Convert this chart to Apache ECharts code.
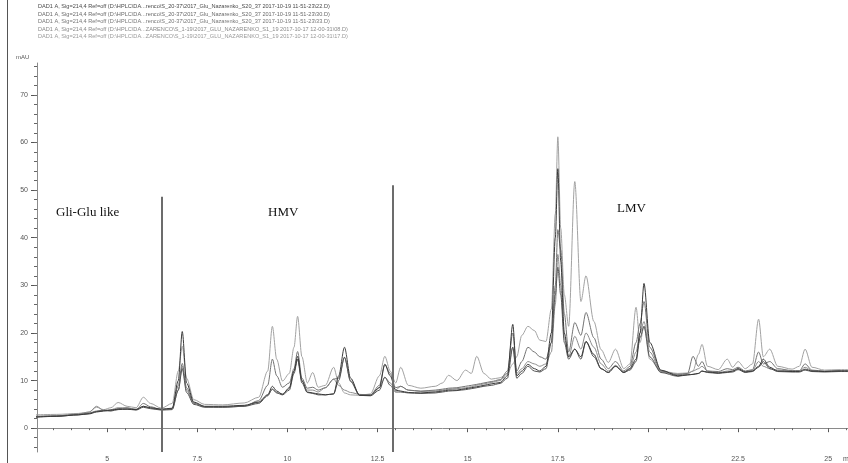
<!DOCTYPE html>
<html>
<head>
<meta charset="utf-8">
<script src="https://cdn.jsdelivr.net/npm/echarts@6/dist/echarts.min.js"></script>
<style>
  html, body { margin: 0; padding: 0; background: #fff; }
  #chart { width: 848px; height: 463px; }
</style>
</head>
<body>
<div id="chart"></div>
<script>
// retention time, min
var times = [
  3.0, 3.6, 4.2, 4.5, 4.7, 4.9, 5.1, 5.3, 5.55, 5.8, 6.0, 6.2, 6.5, 6.8,
  6.97, 7.08, 7.2, 7.4, 7.7, 8.2, 8.8, 9.2, 9.45,
  9.58, 9.7, 9.86, 10.05, 10.18, 10.28, 10.4, 10.55, 10.7, 10.85,
  11.05, 11.28, 11.42, 11.58, 11.75, 12.0, 12.3, 12.55, 12.7, 12.85,
  13.0, 13.14, 13.35, 13.7, 14.1, 14.3, 14.47, 14.7, 14.94, 15.1,
  15.25, 15.45, 15.65, 15.9, 16.1, 16.25, 16.36, 16.5, 16.67, 16.85,
  17.0, 17.17, 17.32, 17.43, 17.5, 17.58, 17.68, 17.8, 17.97, 18.14,
  18.28, 18.5, 18.7, 18.9, 19.1, 19.33, 19.5, 19.67, 19.78, 19.89,
  20.05, 20.36, 20.83, 21.1, 21.25, 21.4, 21.5, 21.65, 21.95, 22.2,
  22.35, 22.5, 22.7, 22.9, 23.07, 23.2, 23.38, 23.6, 24.0, 24.2,
  24.36, 24.55, 24.9, 25.3, 25.55
]

// mAU, one array per run
var runS1_17 = [
  2.8, 2.9, 3.1, 3.4, 4.4, 3.9, 4.3, 5.4, 4.6, 4.3, 6.5, 5.2, 4.2, 5.2,
  12.0, 17.2, 10.5, 6.0, 5.0, 4.9, 5.3, 6.5, 12.0,
  21.4, 14.5, 9.9, 11.5, 17.0, 23.5, 15.0, 9.5, 11.7, 8.6,
  9.0, 12.8, 9.5, 7.4, 7.0, 6.9, 7.2, 11.0, 15.1, 12.0,
  9.5, 12.8, 9.0, 8.4, 8.8, 9.5, 11.1, 10.0, 12.2, 11.5,
  15.1, 11.5, 10.3, 10.6, 11.5, 13.5, 15.0, 19.5, 21.4, 20.5,
  18.5, 18.2, 25.0, 45.0, 61.2, 42.0, 28.0, 21.4, 51.8, 26.6,
  32.0, 22.4, 16.5, 13.8, 16.6, 12.5, 13.5, 25.4, 18.0, 21.4,
  14.5, 12.0, 11.5, 11.6, 12.0, 15.5, 17.6, 13.0, 12.3, 14.5,
  12.8, 14.0, 12.5, 13.5, 22.9, 15.0, 16.6, 13.0, 12.4, 13.0,
  16.6, 12.8, 12.2, 12.3, 12.3
]
var runS20_22 = [
  2.3, 2.5, 2.8, 3.0, 3.4, 3.6, 3.8, 4.0, 4.0, 3.9, 4.6, 4.3, 4.0, 4.2,
  10.0, 20.3, 9.5, 5.5, 4.6, 4.6, 4.8, 5.5, 7.0,
  8.8, 7.8, 7.1, 8.5, 12.0, 15.1, 10.0, 7.6, 7.4, 7.2,
  7.0, 7.2, 11.0, 17.0, 10.5, 6.9, 6.9, 8.5, 13.4, 11.0,
  8.0, 7.8, 7.5, 7.4, 7.6, 7.8, 8.0, 8.0, 8.3, 8.5,
  8.7, 9.0, 9.3, 9.6, 11.0, 21.8, 11.0, 12.0, 13.4, 12.5,
  12.0, 13.0, 20.0, 40.0, 54.5, 35.0, 20.0, 15.0, 16.6, 15.0,
  18.2, 15.5, 12.5, 11.7, 13.0, 11.7, 12.5, 14.5, 20.0, 30.4,
  18.0, 12.2, 11.0, 11.2, 11.3, 11.5, 12.0, 11.8, 11.6, 11.8,
  12.0, 12.5, 11.8, 12.0, 13.0, 14.5, 12.8, 12.0, 11.9, 11.9,
  12.4, 12.0, 11.9, 12.0, 12.0
]
var runS20_30 = [
  2.5, 2.6, 2.9, 3.2, 3.6, 3.8, 3.7, 4.1, 4.3, 3.9, 5.2, 4.5, 3.9, 4.1,
  9.0, 13.6, 8.5, 5.3, 4.5, 4.4, 4.6, 5.8, 9.0,
  14.5, 11.0, 8.6, 9.5, 12.5, 16.1, 10.5, 8.4, 8.6, 8.0,
  8.5, 10.3, 10.5, 14.9, 10.0, 7.0, 7.0, 9.0, 13.4, 11.5,
  8.5, 8.8, 8.0, 7.8, 8.0, 8.2, 8.4, 8.5, 8.8, 9.0,
  9.2, 9.5, 9.8, 10.2, 12.0, 20.0, 12.0, 14.0, 17.0, 16.0,
  15.0, 14.5, 18.0, 30.0, 41.7, 37.5, 24.0, 16.0, 22.2, 19.5,
  24.3, 19.0, 14.5, 12.5, 14.0, 12.0, 13.0, 18.0, 22.0, 26.6,
  17.0, 12.0, 11.3, 11.5, 15.1, 13.0, 14.0, 12.0, 11.9, 12.5,
  12.3, 12.8, 12.0, 12.3, 16.0, 13.5, 14.0, 12.5, 12.1, 12.1,
  13.5, 12.2, 12.0, 12.1, 12.1
]
var runS20_33 = [
  2.4, 2.6, 3.0, 3.4, 4.6, 3.7, 3.9, 4.3, 4.2, 4.0, 4.6, 4.2, 3.9, 4.0,
  8.0, 13.0, 8.0, 5.2, 4.5, 4.5, 4.7, 5.4, 7.0,
  8.2, 7.5, 7.2, 8.3, 12.0, 14.5, 10.0, 8.0, 8.0, 7.6,
  8.5, 10.3, 9.0, 8.0, 7.5, 7.1, 7.0, 8.5, 10.7, 9.5,
  8.0, 8.8, 8.0, 7.7, 7.8, 8.0, 8.2, 8.3, 8.5, 8.7,
  9.0, 9.3, 9.6, 10.0, 11.5, 17.0, 11.5, 12.5, 14.0, 13.5,
  13.0, 13.5, 16.0, 26.0, 36.5, 30.0, 19.0, 15.0, 19.3, 16.6,
  20.0, 17.0, 13.5, 12.0, 13.2, 11.8, 12.5, 16.0, 20.0, 22.4,
  16.0, 11.8, 11.2, 11.4, 12.0, 12.5, 13.0, 12.0, 11.7, 12.0,
  12.0, 12.5, 11.9, 12.1, 14.0, 13.0, 12.5, 12.2, 12.0, 12.0,
  12.8, 12.1, 11.9, 12.0, 12.0
]
var runS1_08 = [
  2.4, 2.5, 2.8, 3.1, 3.5, 3.7, 3.6, 3.9, 4.0, 3.8, 4.4, 4.1, 3.8, 3.9,
  8.0, 12.5, 7.5, 5.0, 4.4, 4.4, 4.6, 5.2, 6.8,
  8.2, 7.4, 7.0, 8.0, 11.5, 14.5, 9.5, 7.5, 7.3, 7.0,
  7.0, 7.2, 10.0, 14.9, 9.8, 6.9, 6.8, 8.0, 10.7, 9.0,
  7.6, 7.6, 7.4, 7.3, 7.4, 7.6, 7.8, 7.9, 8.1, 8.3,
  8.5, 8.8, 9.0, 9.4, 10.5, 17.0, 10.5, 11.5, 13.0, 12.0,
  11.8, 12.5, 18.0, 28.0, 33.8, 28.0, 18.0, 14.5, 16.6, 14.5,
  18.2, 15.0, 12.5, 11.7, 13.0, 11.7, 12.2, 14.0, 19.0, 21.4,
  15.0, 11.7, 10.9, 11.2, 11.3, 11.5, 12.0, 11.7, 11.5, 11.7,
  11.8, 12.3, 11.7, 11.9, 12.8, 14.0, 12.5, 11.9, 11.8, 11.8,
  12.2, 11.9, 11.8, 11.9, 11.9
]

var xTickLabels = [5, 7.5, 10, 12.5, 15, 17.5, 20, 22.5, 25]
var yTickLabels = [0, 10, 20, 30, 40, 50, 60, 70]

// fraction borders: time and top of the marker line (mAU)
var dividerTimes = [6.5, 12.92]
var dividerTops = [48.6, 51]
var regionNames = ['Gli-Glu like', 'HMV', 'LMV']

var headerLines = [
  'DAD1 A, Sig=214,4 Ref=off (D:\\HPLC\\DA...renco\\S_20-37\\2017_Glu_Nazarenko_S20_37 2017-10-19 11-51-23\\22.D)',
  'DAD1 A, Sig=214,4 Ref=off (D:\\HPLC\\DA...renco\\S_20-37\\2017_Glu_Nazarenko_S20_37 2017-10-19 11-51-23\\30.D)',
  'DAD1 A, Sig=214,4 Ref=off (D:\\HPLC\\DA...renco\\S_20-37\\2017_Glu_Nazarenko_S20_37 2017-10-19 11-51-23\\33.D)',
  'DAD1 A, Sig=214,4 Ref=off (D:\\HPLC\\DA...ZARENCO\\S_1-19\\2017_GLU_NAZARENKO_S1_19 2017-10-17 12-00-31\\08.D)',
  'DAD1 A, Sig=214,4 Ref=off (D:\\HPLC\\DA...ZARENCO\\S_1-19\\2017_GLU_NAZARENKO_S1_19 2017-10-17 12-00-31\\17.D)'
]
var headerColors = ['#4a4a4a', '#6a6a6a', '#777', '#8a8a8a', '#999']

var xMin = 3.05, xMax = 25.55
var yMin = -5, yMax = 76.7

var minorX = []
for (var t = 3.5; t <= 25.5; t += 0.5) minorX.push(t)
var minorY = []
for (var v = -4; v <= 76; v += 2) minorY.push(v)

function pairs(ys) {
  return times.map(function (t, i) { return [t, ys[i]] })
}

var runs = [
  { name: 'S1 17', data: runS1_17, color: '#a2a2a2' },
  { name: 'S20 33', data: runS20_33, color: '#8c8c8c' },
  { name: 'S20 30', data: runS20_30, color: '#737373' },
  { name: 'S1 08', data: runS1_08, color: '#555' },
  { name: 'S20 22', data: runS20_22, color: '#3a3a3a' }
]

var series = runs.map(function (r) {
  return {
    name: r.name,
    type: 'line',
    xAxisIndex: 0,
    showSymbol: false,
    smooth: 0.3,
    smoothMonotone: 'x',
    lineStyle: { width: 1, color: r.color },
    data: pairs(r.data),
    silent: true
  }
})

series[series.length - 1].markLine = {
  silent: true,
  symbol: 'none',
  label: { show: false },
  lineStyle: { color: '#6c6c6c', width: 2, type: 'solid' },
  data: dividerTimes.map(function (d, i) {
    return [{ coord: [d, yMin] }, { coord: [d, dividerTops[i]] }]
  })
}

var axisGray = '#8a8a8a'
var labelFont = { color: '#555', fontSize: 7, fontFamily: 'Liberation Sans' }

var option = {
  animation: false,
  grid: { left: 37, right: 0, top: 63, bottom: 10 },
  xAxis: [
    {
      type: 'value', min: xMin, max: xMax,
      axisLine: { lineStyle: { color: axisGray, width: 1 } },
      axisTick: { show: true, length: 4, lineStyle: { color: '#555' }, customValues: xTickLabels },
      axisLabel: Object.assign({ margin: 4, customValues: xTickLabels }, labelFont),
      splitLine: { show: false }
    },
    {
      type: 'value', min: xMin, max: xMax, position: 'bottom',
      axisLine: { show: false },
      axisTick: { show: true, length: 2, lineStyle: { color: '#666' }, customValues: minorX },
      axisLabel: { show: false },
      splitLine: { show: false }
    }
  ],
  yAxis: [
    {
      type: 'value', min: yMin, max: yMax,
      axisLine: { show: true, lineStyle: { color: axisGray, width: 1 } },
      axisTick: { show: true, length: 6, lineStyle: { color: '#555' }, customValues: yTickLabels },
      axisLabel: Object.assign({ margin: 9, customValues: yTickLabels }, labelFont),
      splitLine: { show: false }
    },
    {
      type: 'value', min: yMin, max: yMax, position: 'left',
      axisLine: { show: false },
      axisTick: { show: true, length: 3, lineStyle: { color: '#666' }, customValues: minorY },
      axisLabel: { show: false },
      splitLine: { show: false }
    }
  ],
  series: series,
  graphic: [
    {
      type: 'line', silent: true,
      shape: { x1: 7.5, y1: 0, x2: 7.5, y2: 463 },
      style: { stroke: '#555', lineWidth: 1 }
    },
    {
      type: 'text', left: 16, top: 54, silent: true,
      style: { text: 'mAU', fill: '#555', font: '6px "Liberation Sans"' }
    },
    {
      type: 'text', left: 843, top: 456, silent: true,
      style: { text: 'min', fill: '#555', font: '7px "Liberation Sans"' }
    }
  ].concat(headerLines.map(function (s, i) {
    return {
      type: 'text', left: 38, top: 3.5 + i * 7.6, silent: true,
      style: { text: s, fill: headerColors[i], font: '5.6px "Liberation Sans"' }
    }
  })).concat([
    { type: 'text', left: 56, top: 206, silent: true,
      style: { text: regionNames[0], fill: '#111', font: '13px "Liberation Serif"' } },
    { type: 'text', left: 268, top: 206, silent: true,
      style: { text: regionNames[1], fill: '#111', font: '13px "Liberation Serif"' } },
    { type: 'text', left: 617, top: 202, silent: true,
      style: { text: regionNames[2], fill: '#111', font: '13px "Liberation Serif"' } }
  ])
}

var myChart = echarts.init(document.getElementById('chart'))
myChart.setOption(option)
</script>
</body>
</html>
